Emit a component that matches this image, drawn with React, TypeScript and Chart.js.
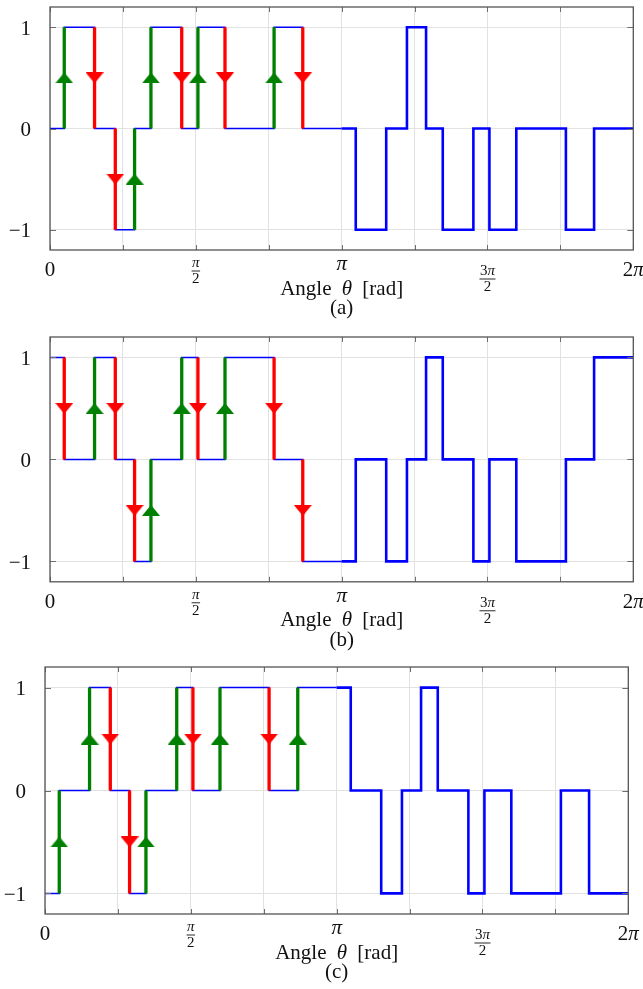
import React, { useEffect, useRef } from 'react';
import { Chart, registerables } from 'chart.js';

Chart.register(...registerables);

const PI = Math.PI;

// Switching angles (degrees), shared by all three panels
const switchDeg = [8.8, 27.5, 40.3, 52.2, 62.3, 81.3, 91.3, 108.0, 138.3, 156.0, 188.7, 207.5, 220.3, 232.1, 242.4, 261.3, 271.2, 287.8, 318.4, 335.8];

// Levels: start value, then level after each switching angle
const startA = 0;
const levelsA = [1, 0, -1, 0, 1, 0, 1, 0, 1, 0, -1, 0, 1, 0, -1, 0, -1, 0, -1, 0];
const startB = 1;
const levelsB = [0, 1, 0, -1, 0, 1, 0, 1, 0, -1, 0, -1, 0, 1, 0, -1, 0, -1, 0, 1];
const startC = -1;
const levelsC = [0, 1, 0, -1, 0, 1, 0, 1, 0, 1, 0, -1, 0, 1, 0, -1, 0, -1, 0, -1];

const yTickValues = [-1, 0, 1];
const xGridQuarters = [0, 1, 2, 3, 4, 5, 6, 7, 8]; // multiples of pi/4
const xTickLabels = ['0', 'π/2', 'π', '3π/2', '2π']; // at multiples of pi/2
const captions = ['(a)', '(b)', '(c)'];
const xTitle = 'Angle θ [rad]';

const BLUE = '#0000ff';
const RED = '#ff0000';
const GREEN = '#008000';
const SERIF = '"Liberation Serif", "DejaVu Serif", serif';

function arrowImage(color: string, up: boolean) {
  const w = 18, h = 11;
  const c = document.createElement('canvas');
  c.width = w; c.height = h;
  const g = c.getContext('2d')!;
  g.fillStyle = color;
  g.beginPath();
  if (up) { g.moveTo(w / 2, 0); g.lineTo(w, h); g.lineTo(0, h); }
  else { g.moveTo(0, 0); g.lineTo(w, 0); g.lineTo(w / 2, h); }
  g.closePath();
  g.fill();
  return c;
}

function buildDatasets(start: number, levels: number[]) {
  const xs = switchDeg.map(d => d * PI / 180);
  const stepPts: any[] = [{ x: 0, y: start }];
  xs.forEach((x, i) => stepPts.push({ x, y: levels[i] }));
  stepPts.push({ x: 2 * PI, y: levels[levels.length - 1] });
  let lvlPi = start;
  xs.forEach((x, i) => { if (x < PI) lvlPi = levels[i]; });
  const firstHalf = stepPts.filter(p => p.x < PI).concat([{ x: PI, y: lvlPi }]);
  const secondHalf = [{ x: PI, y: lvlPi }].concat(stepPts.filter(p => p.x > PI));
  const red: any[] = [], green: any[] = [], redHeads: any[] = [], greenHeads: any[] = [];
  let prev = start;
  xs.forEach((x, i) => {
    const to = levels[i];
    if (x < PI) {
      const up = to > prev;
      (up ? green : red).push({ x, y: prev }, { x, y: to }, { x, y: null });
      (up ? greenHeads : redHeads).push({ x, y: (prev + to) / 2 });
    }
    prev = to;
  });
  const upImg = arrowImage(GREEN, true);
  const downImg = arrowImage(RED, false);
  return [
    { data: greenHeads, showLine: false, pointStyle: upImg, pointRadius: 6, borderColor: GREEN, backgroundColor: GREEN },
    { data: redHeads, showLine: false, pointStyle: downImg, pointRadius: 6, borderColor: RED, backgroundColor: RED },
    { data: green, borderColor: GREEN, borderWidth: 3.3, pointRadius: 0, spanGaps: false, borderCapStyle: 'butt' },
    { data: red, borderColor: RED, borderWidth: 3.3, pointRadius: 0, spanGaps: false, borderCapStyle: 'butt' },
    { data: firstHalf, borderColor: BLUE, borderWidth: 1.5, pointRadius: 0, stepped: 'before' },
    { data: secondHalf, borderColor: BLUE, borderWidth: 2.6, pointRadius: 0, stepped: 'before' },
  ];
}

function drawMixed(ctx: CanvasRenderingContext2D, text: string, cx: number, baseline: number, size: number, targetWidth?: number) {
  const runs: { t: string; it: boolean }[] = [];
  for (const ch of text) {
    const it = ch === 'π' || ch === 'θ';
    const last = runs[runs.length - 1];
    if (last && last.it === it) last.t += ch; else runs.push({ t: ch, it });
  }
  const fontOf = (it: boolean) => `${it ? 'italic ' : ''}${size}px ${SERIF}`;
  let total = 0;
  runs.forEach(r => { ctx.font = fontOf(r.it); total += ctx.measureText(r.t).width; });
  const nSpaces = (text.match(/ /g) || []).length;
  let extra = 0;
  if (targetWidth && nSpaces > 0) { extra = (targetWidth - total) / nSpaces; total = targetWidth; }
  let x = cx - total / 2;
  ctx.textAlign = 'left';
  ctx.textBaseline = 'alphabetic';
  runs.forEach((r) => {
    ctx.font = fontOf(r.it);
    for (const ch of r.t) {
      ctx.fillText(ch, x, baseline);
      x += ctx.measureText(ch).width + (ch === ' ' ? extra : 0);
    }
  });
  return total;
}

const panelGeo = [
  { canvasTop: 0, canvasH: 330, left: 50, right: 633.3, top: 0.5, bottom: 250 },
  { canvasTop: 330, canvasH: 330, left: 50, right: 633.3, top: 1.8, bottom: 251.8 },
  { canvasTop: 660, canvasH: 329, left: 45, right: 628.3, top: 4, bottom: 254 },
];

function Panel({ idx, start, levels }: { idx: number; start: number; levels: number[] }) {
  const ref = useRef<HTMLCanvasElement>(null);
  const geo = panelGeo[idx];
  useEffect(() => {
    const canvas = ref.current!;
    const decor = {
      id: 'decor',
      afterDatasetsDraw(chart: any) {
        const ctx: CanvasRenderingContext2D = chart.ctx;
        const { left, right, top, bottom } = chart.chartArea;
        const xs = chart.scales.x, ys = chart.scales.y;
        ctx.save();
        // tick marks
        ctx.strokeStyle = '#6e6e6e';
        ctx.lineWidth = 1;
        xGridQuarters.forEach(q => {
          const px = Math.round(xs.getPixelForValue(q * PI / 4)) + 0.5;
          ctx.beginPath();
          ctx.moveTo(px, bottom); ctx.lineTo(px, bottom - 5);
          ctx.moveTo(px, top); ctx.lineTo(px, top + 5);
          ctx.stroke();
        });
        yTickValues.forEach(v => {
          const py = Math.round(ys.getPixelForValue(v)) + 0.5;
          ctx.beginPath();
          ctx.moveTo(left, py); ctx.lineTo(left + 6, py);
          ctx.moveTo(right, py); ctx.lineTo(right - 6, py);
          ctx.stroke();
        });
        // frame
        ctx.strokeStyle = '#555555';
        ctx.lineWidth = 1.3;
        ctx.strokeRect(left, top, right - left, bottom - top);
        // y labels
        ctx.fillStyle = '#111';
        ctx.font = `21px ${SERIF}`;
        ctx.textAlign = 'right';
        ctx.textBaseline = 'alphabetic';
        yTickValues.forEach(v => {
          const py = ys.getPixelForValue(v);
          ctx.fillText(v < 0 ? '\u2212' + Math.abs(v) : String(v), left - 19, py + 7.5);
        });
        // x labels
        xTickLabels.forEach((lab, i) => {
          const px = xs.getPixelForValue(i * PI / 2);
          if (lab.includes('/')) {
            const [num, den] = lab.split('/');
            const tall = /[0-9]/.test(num);
            const numBase = bottom + (tall ? 25 : 17);
            const w = drawMixed(ctx, num, px, numBase, 15);
            const barY = numBase + 4;
            ctx.fillRect(px - w / 2 - 0.5, barY - 0.45, w + 1, 0.9);
            drawMixed(ctx, den, px, barY + 12, 15);
          } else if (lab === 'π') {
            drawMixed(ctx, lab, px, bottom + 20.3, 21);
          } else {
            drawMixed(ctx, lab, px, bottom + 26, 21);
          }
        });
        // title and caption
        const cx = (left + right) / 2;
        drawMixed(ctx, xTitle, cx, bottom + 44.5, 21, 123);
        drawMixed(ctx, captions[idx], cx, bottom + 64, 21);
        ctx.restore();
      },
    };
    const chart = new Chart(canvas, {
      type: 'line',
      data: { datasets: buildDatasets(start, levels) as any },
      options: {
        animation: false,
        responsive: false,
        maintainAspectRatio: false,
        layout: { padding: { left: geo.left, right: 643 - geo.right, top: geo.top, bottom: geo.canvasH - geo.bottom } },
        plugins: { legend: { display: false }, tooltip: { enabled: false }, title: { display: false } },
        scales: {
          x: {
            type: 'linear', min: 0, max: 2 * PI,
            afterBuildTicks: (s: any) => { s.ticks = xGridQuarters.map(q => ({ value: q * PI / 4 })); },
            ticks: { display: false },
            grid: { color: '#e2e2e2', lineWidth: 1, drawTicks: false },
            border: { display: false },
          },
          y: {
            type: 'linear', min: -1.2, max: 1.2,
            afterBuildTicks: (s: any) => { s.ticks = yTickValues.map(v => ({ value: v })); },
            ticks: { display: false },
            grid: { color: '#e2e2e2', lineWidth: 1, drawTicks: false },
            border: { display: false },
          },
        },
      } as any,
      plugins: [decor],
    });
    return () => chart.destroy();
  }, [idx, start, levels]);
  return (
    <canvas
      ref={ref}
      width={643}
      height={geo.canvasH}
      style={{ position: 'absolute', left: 0, top: geo.canvasTop, width: 643, height: geo.canvasH }}
    />
  );
}

export default function App() {
  return (
    <div style={{ position: 'absolute', left: 0, top: 0, width: 643, height: 989, background: '#fff', overflow: 'hidden' }}>
      <Panel idx={0} start={startA} levels={levelsA} />
      <Panel idx={1} start={startB} levels={levelsB} />
      <Panel idx={2} start={startC} levels={levelsC} />
    </div>
  );
}
